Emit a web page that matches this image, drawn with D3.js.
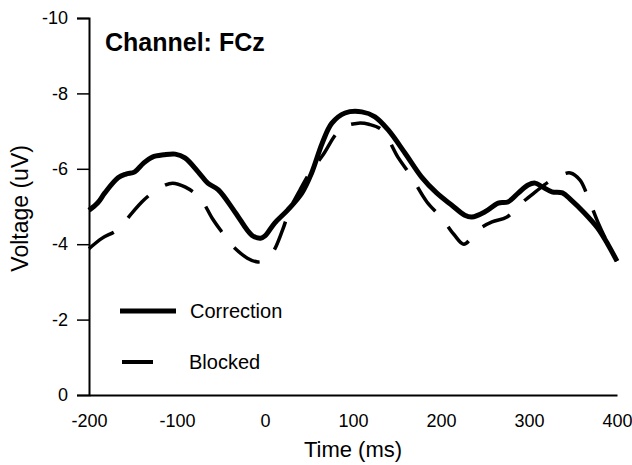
<!DOCTYPE html>
<html>
<head>
<meta charset="utf-8">
<script src="https://cdn.jsdelivr.net/npm/d3@7"></script>
<style>
  html, body { margin: 0; padding: 0; background: #fff; }
  svg { display: block; font-family: "Liberation Sans", Arial, sans-serif; }
</style>
</head>
<body>
<svg id="chart"></svg>
<script>
// Time points (ms) and voltages (uV)
const correctionTime = [-200, -190, -182, -167, -158, -148, -138, -128, -115, -102, -91, -76, -65, -53, -34, -15, -5, 0, 11, 26, 42, 53, 65, 76, 91, 110, 125, 140, 159, 178, 195, 212, 227, 235, 250, 265, 276, 288, 299, 307, 315, 326, 338, 348, 363, 378, 390, 400];
const correctionVolt = [-4.9, -5.1, -5.36, -5.76, -5.86, -5.92, -6.15, -6.31, -6.37, -6.39, -6.29, -5.92, -5.62, -5.44, -4.85, -4.24, -4.16, -4.22, -4.56, -4.91, -5.36, -5.89, -6.68, -7.21, -7.48, -7.51, -7.38, -7.03, -6.42, -5.78, -5.36, -5.04, -4.77, -4.72, -4.86, -5.09, -5.12, -5.36, -5.57, -5.62, -5.52, -5.39, -5.36, -5.17, -4.83, -4.43, -3.98, -3.55];

const blockedTime = [-200, -185, -168, -151, -140, -127, -115, -105, -91, -74, -60, -49, -40, -20, -8, 0, 9, 20, 28, 40, 53, 66, 80, 89, 106, 118, 133, 151, 165, 184, 201, 215, 226, 242, 258, 275, 293, 308, 322, 335, 347, 358, 366, 378, 390, 400];
const blockedVolt = [-3.88, -4.16, -4.38, -4.83, -5.12, -5.38, -5.55, -5.62, -5.52, -5.23, -4.69, -4.32, -4.03, -3.63, -3.53, -3.58, -3.79, -4.38, -4.91, -5.45, -5.97, -6.37, -6.9, -7.11, -7.21, -7.18, -7.03, -6.31, -5.84, -5.12, -4.69, -4.25, -4.0, -4.38, -4.59, -4.72, -5.12, -5.4, -5.65, -5.82, -5.89, -5.7, -5.31, -4.6, -4.0, -3.55];

const xTicks = [-200, -100, 0, 100, 200, 300, 400];
const yTicks = [-10, -8, -6, -4, -2, 0];

const width = 632;
const height = 465;
const margin = { top: 18, right: 15, bottom: 70, left: 89 };

const svg = d3.select('#chart')
  .attr('width', width)
  .attr('height', height)
  .attr('viewBox', `0 0 ${width} ${height}`);

const x = d3.scaleLinear().domain([-200, 400]).range([margin.left, width - margin.right]);
// negative up
const y = d3.scaleLinear().domain([0, -10]).range([height - margin.bottom, margin.top]);

// plain hyphen, like the original
const fmt = d => String(d);

// Axes
const xAxis = svg.append('g')
  .attr('transform', `translate(0,${y(0)})`)
  .call(d3.axisBottom(x).tickValues(xTicks).tickSize(0).tickPadding(19).tickFormat(fmt));
xAxis.select('.domain').attr('stroke', '#000').attr('stroke-width', 2);
xAxis.selectAll('text').attr('font-size', 18).attr('fill', '#000')
  .attr('font-family', '"Liberation Sans", Arial, sans-serif');

const yAxis = svg.append('g')
  .attr('transform', `translate(${x(-200)},0)`)
  .call(d3.axisLeft(y).tickValues(yTicks).tickSize(12).tickPadding(9).tickFormat(fmt));
yAxis.select('.domain').attr('stroke', '#000').attr('stroke-width', 2);
yAxis.selectAll('.tick line').attr('stroke', '#000').attr('stroke-width', 1.5);
yAxis.selectAll('text').attr('font-size', 18).attr('fill', '#000')
  .attr('font-family', '"Liberation Sans", Arial, sans-serif');

// Axis titles
svg.append('text')
  .attr('x', (x(-200) + x(400)) / 2)
  .attr('y', 457)
  .attr('text-anchor', 'middle')
  .attr('font-size', 22)
  .text('Time (ms)');

svg.append('text')
  .attr('transform', `translate(28,${y(-4.95)}) rotate(-90)`)
  .attr('text-anchor', 'middle')
  .attr('font-size', 23)
  .text('Voltage (uV)');

svg.append('text')
  .attr('x', 105)
  .attr('y', 51)
  .attr('font-size', 25)
  .attr('font-weight', 'bold')
  .text('Channel: FCz');

// Waveforms
const line = d3.line()
  .x(d => x(d[0]))
  .y(d => y(d[1]))
  .curve(d3.curveCatmullRom.alpha(0.5));

const correction = correctionTime.map((t, i) => [t, correctionVolt[i]]);
const blocked = blockedTime.map((t, i) => [t, blockedVolt[i]]);

svg.append('path')
  .datum(blocked)
  .attr('fill', 'none')
  .attr('stroke', '#000')
  .attr('stroke-width', 3.5)
  .attr('stroke-dasharray', '30,20')
  .attr('d', line);

svg.append('path')
  .datum(correction)
  .attr('fill', 'none')
  .attr('stroke', '#000')
  .attr('stroke-width', 5)
  .attr('stroke-linejoin', 'round')
  .attr('d', line);

// Legend
const legend = svg.append('g');
legend.append('line')
  .attr('x1', 120).attr('x2', 176).attr('y1', 311).attr('y2', 311)
  .attr('stroke', '#000').attr('stroke-width', 5);
legend.append('text')
  .attr('x', 190).attr('y', 318)
  .attr('font-size', 20)
  .text('Correction');
legend.append('line')
  .attr('x1', 122).attr('x2', 153).attr('y1', 362).attr('y2', 362)
  .attr('stroke', '#000').attr('stroke-width', 4);
legend.append('text')
  .attr('x', 189).attr('y', 369)
  .attr('font-size', 20)
  .text('Blocked');
</script>
</body>
</html>
